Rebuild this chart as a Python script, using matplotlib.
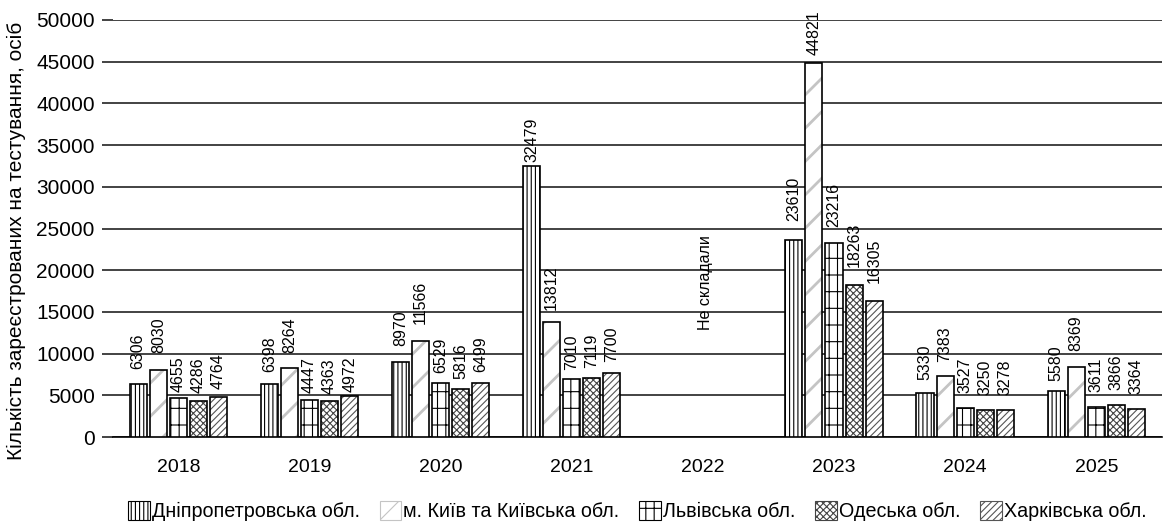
import matplotlib.pyplot as plt
import numpy as np

plt.rcParams['font.family'] = ['Liberation Sans', 'DejaVu Sans']
plt.rcParams['hatch.linewidth'] = 0.8

years = ['2018', '2019', '2020', '2021', '2022', '2023', '2024', '2025']
regions = ['Дніпропетровська обл.', 'м. Київ та Київська обл.', 'Львівська обл.',
           'Одеська обл.', 'Харківська обл.']

dnipro = [6306, 6398, 8970, 32479, None, 23610, 5330, 5580]
kyiv = [8030, 8264, 11566, 13812, None, 44821, 7383, 8369]
lviv = [4655, 4447, 6529, 7010, None, 23216, 3527, 3611]
odesa = [4286, 4363, 5816, 7119, None, 18263, 3250, 3866]
kharkiv = [4764, 4972, 6499, 7700, None, 16305, 3278, 3364]
series = [dnipro, kyiv, lviv, odesa, kharkiv]

hatches = ['||||', '/', '-||', 'xxxxx', '/////']
hatch_colors = ['black', '#c4c4c4', 'black', '#444444', '#555555']
hatch_widths = [0.8, 2.0, 0.8, 0.8, 0.8]

# gap (px) between bar top and its value label, as placed in the original
label_gap = [
    [15, 12, 16, 4, 0, 19, 13, 10],
    [17, 15, 17, 12, 0, 8, 14, 16],
    [6, 7, 10, 9, 0, 16, 15, 15],
    [8, 7, 10, 10, 0, 18, 15, 15],
    [8, 4, 11, 11, 0, 18, 15, 15],
]

fig = plt.figure(figsize=(11.63, 5.26), dpi=100)
ax = fig.add_axes([0.097, 0.169, 0.902, 0.793])

x = np.arange(len(years))
w = 0.13
step = 0.153
handles = []
for i, (vals, h, hc, hw) in enumerate(zip(series, hatches, hatch_colors, hatch_widths)):
    idx = [j for j, v in enumerate(vals) if v is not None]
    xs = [x[j] + (i - 2) * step for j in idx]
    vs = [vals[j] for j in idx]
    with plt.rc_context({'hatch.linewidth': hw}):
        ax.bar(xs, vs, w, color='white', edgecolor=hc, hatch=h, linewidth=0, zorder=3)
        handles.append(plt.Rectangle((0, 0), 1, 1, facecolor='white', edgecolor=hc,
                                     hatch=h, linewidth=0.8))
    ax.bar(xs, vs, w, color='none', edgecolor='black', linewidth=1.2, zorder=4)
    for j, xx, v in zip(idx, xs, vs):
        ax.annotate(str(v), (xx, v), xytext=(0, label_gap[i][j] * 0.72),
                    textcoords='offset points', rotation=90, ha='center', va='bottom',
                    fontsize=11.5, annotation_clip=False, zorder=5)

ax.text(4 + 0.02, 12800, 'Не складали', rotation=90, ha='center', va='bottom', fontsize=11.5)

ax.set_xlim(-0.5, 7.5)
ax.set_ylim(0, 50000)
ax.set_yticks(np.arange(0, 50001, 5000))
ax.set_xticks(x)
ax.set_xticklabels(years, fontsize=14)
ax.tick_params(axis='y', labelsize=15, direction='out', length=8, width=1.2, color='#222222', pad=5)
ax.tick_params(axis='x', length=0, pad=16)
ax.yaxis.grid(True, color='#222222', linewidth=1.2, zorder=0)
ax.set_axisbelow(True)
for s in ['top', 'right', 'left']:
    ax.spines[s].set_visible(False)
ax.spines['bottom'].set_linewidth(1.2)
ax.set_ylabel('Кількість зареєстрованих на тестування, осіб', fontsize=15)
ax.yaxis.set_label_coords(-0.083, 0.47)

fig.legend(handles, regions, loc='lower center', ncol=5, frameon=False,
           bbox_to_anchor=(0.548, -0.025), fontsize=14.2, handlelength=1.1,
           handleheight=1.1, handletextpad=0.1, columnspacing=1.0)

fig.savefig('out.png', dpi=100)
